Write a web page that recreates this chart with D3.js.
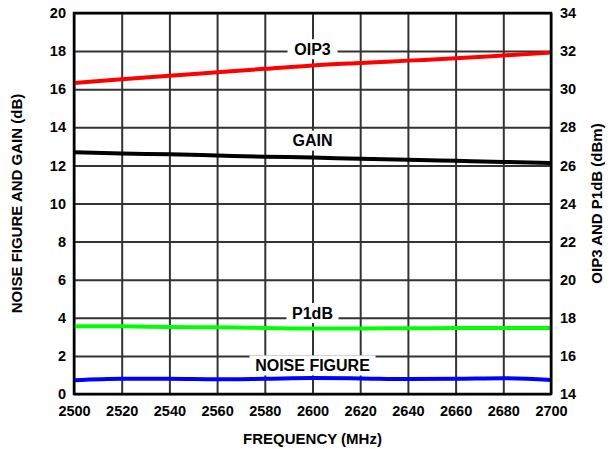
<!DOCTYPE html>
<html>
<head>
<meta charset="utf-8">
<script src="https://cdn.jsdelivr.net/npm/d3@7"></script>
<style>
  body { margin: 0; background: #fff; }
  text { font-family: "Liberation Sans", Arial, sans-serif; font-weight: bold; }
</style>
</head>
<body>
<div id="chart"></div>
<script>
// data
const frequency = [2500, 2520, 2540, 2560, 2580, 2600, 2620, 2640, 2660, 2680, 2700]
const oip3 = [30.32, 30.52, 30.71, 30.89, 31.07, 31.25, 31.38, 31.5, 31.62, 31.77, 31.92]
const gain = [12.69, 12.63, 12.58, 12.52, 12.46, 12.41, 12.35, 12.3, 12.24, 12.18, 12.13]
const p1db = [17.56, 17.55, 17.52, 17.5, 17.47, 17.44, 17.44, 17.45, 17.46, 17.47, 17.47]
const noiseFigure = [0.72, 0.8, 0.8, 0.77, 0.8, 0.84, 0.82, 0.79, 0.8, 0.83, 0.74]
const xTicks = [2500, 2520, 2540, 2560, 2580, 2600, 2620, 2640, 2660, 2680, 2700]
const leftTicks = [0, 2, 4, 6, 8, 10, 12, 14, 16, 18, 20]
const rightTicks = [14, 16, 18, 20, 22, 24, 26, 28, 30, 32, 34]

const width = 615, height = 449
const margin = {top: 13, right: 64, bottom: 55, left: 74}
const innerW = width - margin.left - margin.right
const innerH = height - margin.top - margin.bottom

const svg = d3.select('#chart')
  .append('svg')
  .attr('width', width)
  .attr('height', height)

const chart = svg.append('g')
  .attr('transform', 'translate(' + margin.left + ',' + margin.top + ')')

const x = d3.scaleLinear().domain([2500, 2700]).range([0, innerW])
const yLeft = d3.scaleLinear().domain([0, 20]).range([innerH, 0])
const yRight = d3.scaleLinear().domain([14, 34]).range([innerH, 0])

// Grid
chart.append('g')
  .attr('class', 'grid')
  .call(d3.axisLeft(yLeft).tickValues(leftTicks).tickSize(-innerW).tickFormat(''))
  .call(g => g.select('.domain').remove())
  .selectAll('line')
  .attr('stroke', '#333')
  .attr('stroke-width', 2)

chart.append('g')
  .attr('class', 'grid')
  .attr('transform', 'translate(0,' + innerH + ')')
  .call(d3.axisBottom(x).tickValues(xTicks).tickSize(-innerH).tickFormat(''))
  .call(g => g.select('.domain').remove())
  .selectAll('line')
  .attr('stroke', '#333')
  .attr('stroke-width', 2)

// Tick labels
chart.append('g')
  .call(d3.axisLeft(yLeft).tickValues(leftTicks).tickSize(0).tickPadding(8))
  .call(g => g.select('.domain').remove())
  .selectAll('text')
  .attr('fill', '#000')
  .style('font-size', '14.5px')

chart.append('g')
  .attr('transform', 'translate(' + innerW + ',0)')
  .call(d3.axisRight(yRight).tickValues(rightTicks).tickSize(0).tickPadding(9))
  .call(g => g.select('.domain').remove())
  .selectAll('text')
  .attr('fill', '#000')
  .style('font-size', '14.5px')

chart.append('g')
  .attr('transform', 'translate(0,' + innerH + ')')
  .call(d3.axisBottom(x).tickValues(xTicks).tickSize(0).tickPadding(12).tickFormat(d3.format('d')))
  .call(g => g.select('.domain').remove())
  .selectAll('text')
  .attr('fill', '#000')
  .style('font-size', '14.5px')

// Curve labels with white boxes
const labels = [
  {text: 'OIP3', f: 2600, v: 18.1, w: 50},
  {text: 'GAIN', f: 2600, v: 13.3, w: 50},
  {text: 'P1dB', f: 2600, v: 4.25, w: 52},
  {text: 'NOISE FIGURE', f: 2600, v: 1.5, w: 126}
]
labels.forEach(l => {
  chart.append('rect')
    .attr('x', x(l.f) - l.w / 2)
    .attr('y', yLeft(l.v) - 10)
    .attr('width', l.w)
    .attr('height', 20)
    .attr('fill', '#fff')
  chart.append('text')
    .attr('x', x(l.f))
    .attr('y', yLeft(l.v))
    .attr('dy', '0.36em')
    .attr('text-anchor', 'middle')
    .style('font-size', '16px')
    .text(l.text)
})

// Lines
const series = [
  {values: oip3, y: yRight, color: '#ff0000'},
  {values: gain, y: yLeft, color: '#000000'},
  {values: p1db, y: yRight, color: '#00ff00'},
  {values: noiseFigure, y: yLeft, color: '#0000ff'}
]
series.forEach(s => {
  const line = d3.line()
    .x((d, i) => x(frequency[i]))
    .y(d => s.y(d))
    .curve(d3.curveMonotoneX)
  chart.append('path')
    .datum(s.values)
    .attr('fill', 'none')
    .attr('stroke', s.color)
    .attr('stroke-width', 4)
    .attr('d', line)
})

// Border
chart.append('rect')
  .attr('width', innerW)
  .attr('height', innerH)
  .attr('fill', 'none')
  .attr('stroke', '#000')
  .attr('stroke-width', 2.5)

// Axis titles
svg.append('text')
  .attr('x', margin.left + innerW / 2)
  .attr('y', 444)
  .attr('text-anchor', 'middle')
  .style('font-size', '15px')
  .text('FREQUENCY (MHz)')

svg.append('text')
  .attr('transform', 'translate(22,' + (margin.top + innerH / 2) + ') rotate(-90)')
  .attr('text-anchor', 'middle')
  .style('font-size', '15px')
  .text('NOISE FIGURE AND GAIN (dB)')

svg.append('text')
  .attr('transform', 'translate(602,' + (margin.top + innerH / 2) + ') rotate(-90)')
  .attr('text-anchor', 'middle')
  .style('font-size', '15px')
  .text('OIP3 AND P1dB (dBm)')
</script>
</body>
</html>
